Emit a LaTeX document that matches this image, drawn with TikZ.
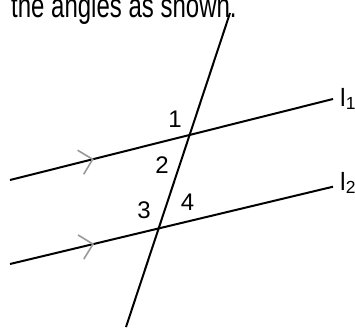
\documentclass[tikz,border=0pt]{standalone}
\usepackage{fontspec}
\setmainfont{Liberation Sans}
\usetikzlibrary{calc,decorations.markings}
\begin{document}
\begin{tikzpicture}[x=1pt,y=-1pt,
  ln/.style={line width=2pt},
  chev/.style={draw=black!40,line width=1.6pt},
  num/.style={inner sep=0pt,font=\fontsize{24}{24}\selectfont},
  lab/.style={inner sep=0pt,anchor=west,font=\fontsize{25}{25}\selectfont},
  chevmark/.style={postaction={decorate},decoration={markings,
     mark=at position #1 with {\draw[chev] (-12.4pt,12.4pt) -- (0,0) -- (-12.4pt,-12.4pt);}}}]
\useasboundingbox (0,0) rectangle (355,327);
\begin{scope}
\clip (0,0) rectangle (355,327);
\node[anchor=base west,inner sep=0pt,yscale=1.4,font=\fontsize{24}{24}\selectfont] (hdr) at (11,17.5) {the angles as shown.};
\end{scope}
% endpoints
\coordinate (ta) at (230,13);
\coordinate (tb) at (126,327);
\coordinate (l1a) at (10,180);
\coordinate (l1b) at (333,99);
\coordinate (l2a) at (10,264);
\coordinate (l2b) at (333,186.7);
\draw[ln] (ta) -- (tb);
\draw[ln,chevmark=0.256] (l1a) -- (l1b);
\draw[ln,chevmark=0.257] (l2a) -- (l2b);
% angle labels
\node[num] (n1) at (175,119) {1};
\node[num] (n2) at (162,165) {2};
\node[num] (n3) at (144,210.5) {3};
\node[num] (n4) at (187.5,202) {4};
% line labels
\node[lab] (L1) at (340,99) {l\textsubscript{1}};
\node[lab] (L2) at (340,183) {l\textsubscript{2}};
\end{tikzpicture}
\end{document}
